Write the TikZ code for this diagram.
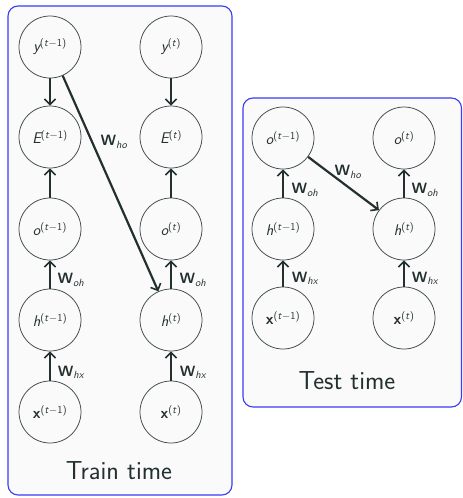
\documentclass[tikz,border=0pt]{standalone}
\usetikzlibrary{arrows.meta}
\definecolor{frameblue}{HTML}{3C3CF2}
\definecolor{panelbg}{HTML}{FAFAFA}
\definecolor{ink}{HTML}{23302F}
\definecolor{ringgray}{HTML}{3E4848}
% small script size used for superscripts and subscripts
\newcommand\scr{\fontsize{10.5}{12}\selectfont}
% variable with a time superscript, e.g. y^{(t-1)}
\newcommand\tvar[2]{{\itshape #1}\textsuperscript{\scr(\itshape t\/\upshape#2)}}
\newcommand\tvecx[1]{{\bfseries x}\textsuperscript{\scr(\itshape t\/\upshape#1)}}
% weight label W_{..}
\newcommand\wlab[1]{{\bfseries W}\textsubscript{\scr\itshape #1}}
\tikzset{
  panel/.style={draw=frameblue, line width=1.1pt, fill=panelbg, rounded corners=10pt},
  unit/.style={circle, draw=ringgray, line width=0.75pt, minimum size=62pt, inner sep=0pt,
               text=ink, font=\sffamily\fontsize{15.5}{17}\selectfont},
  wire/.style={draw=ink, line width=2.2pt, -{Straight Barb[length=5.5pt,width=11pt,line width=1.6pt]}},
  weight/.style={text=ink, font=\sffamily\fontsize{15}{17}\selectfont, inner sep=0pt},
  caption/.style={text=ink, font=\sffamily\fontsize{26}{30}\selectfont}
}
\begin{document}
\begin{tikzpicture}[x=1pt,y=-1pt]
\useasboundingbox (0,0) rectangle (463,498);
\fill[white] (0,0) rectangle (463,498);

% ---- training panel ----
\draw[panel] (8,6) rectangle (232,495);
\node[unit] (y1) at (50,47)  {\tvar{y}{$-$1}};
\node[unit] (E1) at (50,137) {\tvar{E}{$-$1}};
\node[unit] (o1) at (50,229) {\tvar{o}{$-$1}};
\node[unit] (h1) at (50,320) {\tvar{h}{$-$1}};
\node[unit] (x1) at (50,412) {\tvecx{$-$1}};
\node[unit] (y2) at (171,47)  {\tvar{y}{}};
\node[unit] (E2) at (171,137) {\tvar{E}{}};
\node[unit] (o2) at (171,229) {\tvar{o}{}};
\node[unit] (h2) at (171,320) {\tvar{h}{}};
\node[unit] (x2) at (171,412) {\tvecx{}};

\draw[wire] (y1) -- (E1);
\draw[wire] (o1) -- (E1);
\draw[wire] (h1) -- (o1);
\draw[wire] (x1) -- (h1);
\draw[wire] (y2) -- (E2);
\draw[wire] (o2) -- (E2);
\draw[wire] (h2) -- (o2);
\draw[wire] (x2) -- (h2);
\draw[wire] (y1) -- (h2);

\node[weight] (wtho) at (114,142) {\wlab{ho}};
\node[weight] (wtoh1) at (71,280) {\wlab{oh}};
\node[weight] (wthx1) at (71,372) {\wlab{hx}};
\node[weight] (wtoh2) at (193,280) {\wlab{oh}};
\node[weight] (wthx2) at (193,372) {\wlab{hx}};
\node[caption] (train) at (119,471) {Train time};

% ---- test panel ----
\draw[panel] (243,98) rectangle (461.5,407);
\node[unit] (to1) at (283,138) {\tvar{o}{$-$1}};
\node[unit] (th1) at (283,229) {\tvar{h}{$-$1}};
\node[unit] (tx1) at (283,318) {\tvecx{$-$1}};
\node[unit] (to2) at (404,138) {\tvar{o}{}};
\node[unit] (th2) at (404,229) {\tvar{h}{}};
\node[unit] (tx2) at (404,318) {\tvecx{}};

\draw[wire] (th1) -- (to1);
\draw[wire] (tx1) -- (th1);
\draw[wire] (th2) -- (to2);
\draw[wire] (tx2) -- (th2);
\draw[wire] (to1) -- (th2);

\node[weight] (vtho) at (348,172) {\wlab{ho}};
\node[weight] (vtoh1) at (305,190) {\wlab{oh}};
\node[weight] (vthx1) at (305,278) {\wlab{hx}};
\node[weight] (vtoh2) at (425,190) {\wlab{oh}};
\node[weight] (vthx2) at (425,278) {\wlab{hx}};
\node[caption] (test) at (347,381) {Test time};
\end{tikzpicture}
\end{document}
